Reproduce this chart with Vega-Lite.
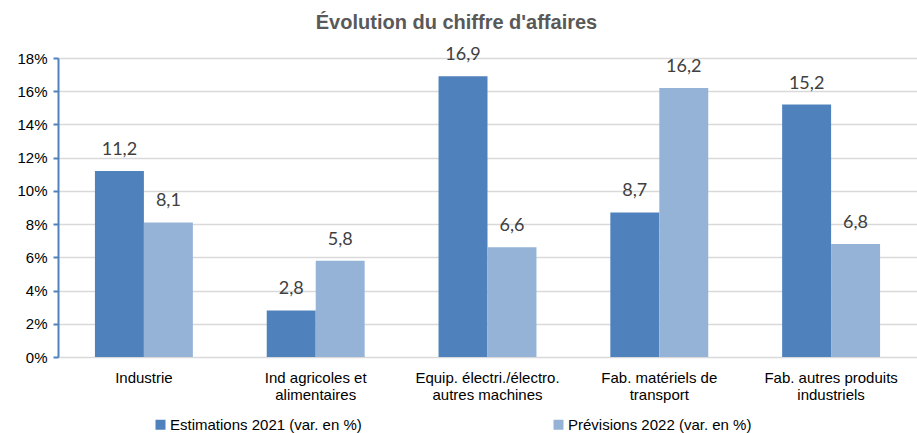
{
  "$schema": "https://vega.github.io/schema/vega-lite/v6.json",
  "width": 859,
  "height": 299,
  "autosize": {"type": "none"},
  "padding": {"left": 58, "top": 58, "right": 0, "bottom": 76},
  "background": "white",
  "config": {
    "view": {"stroke": null},
    "locale": {"number": {"decimal": ",", "thousands": " ", "grouping": [3], "currency": ["", " €"]}},
    "font": "Liberation Sans"
  },
  "title": {
    "text": "Évolution du chiffre d'affaires",
    "font": "Liberation Sans",
    "fontSize": 20,
    "fontWeight": "bold",
    "color": "#595959",
    "anchor": "middle",
    "dx": -31,
    "offset": 13
  },
  "data": {
    "values": [
      {"categorie": "Industrie", "serie": "Estimations 2021 (var. en %)", "valeur": 11.2},
      {"categorie": "Industrie", "serie": "Prévisions 2022 (var. en %)", "valeur": 8.1},
      {"categorie": "Ind agricoles et alimentaires", "serie": "Estimations 2021 (var. en %)", "valeur": 2.8},
      {"categorie": "Ind agricoles et alimentaires", "serie": "Prévisions 2022 (var. en %)", "valeur": 5.8},
      {"categorie": "Equip. électri./électro. autres machines", "serie": "Estimations 2021 (var. en %)", "valeur": 16.9},
      {"categorie": "Equip. électri./électro. autres machines", "serie": "Prévisions 2022 (var. en %)", "valeur": 6.6},
      {"categorie": "Fab. matériels de transport", "serie": "Estimations 2021 (var. en %)", "valeur": 8.7},
      {"categorie": "Fab. matériels de transport", "serie": "Prévisions 2022 (var. en %)", "valeur": 16.2},
      {"categorie": "Fab. autres produits industriels", "serie": "Estimations 2021 (var. en %)", "valeur": 15.2},
      {"categorie": "Fab. autres produits industriels", "serie": "Prévisions 2022 (var. en %)", "valeur": 6.8}
    ]
  },
  "encoding": {
    "x": {
      "field": "categorie",
      "type": "nominal",
      "sort": null,
      "scale": {"paddingInner": 0.43, "paddingOuter": 0.215},
      "axis": {
        "title": null,
        "labelAngle": 0,
        "labelFontSize": 15,
        "labelColor": "#000000",
        "labelPadding": 13,
        "labelLineHeight": 17,
        "ticks": false,
        "domainColor": "#d9d9d9",
        "labelExpr": "datum.label == 'Ind agricoles et alimentaires' ? ['Ind agricoles et', 'alimentaires'] : datum.label == 'Equip. électri./électro. autres machines' ? ['Equip. électri./électro.', 'autres machines'] : datum.label == 'Fab. matériels de transport' ? ['Fab. matériels de', 'transport'] : datum.label == 'Fab. autres produits industriels' ? ['Fab. autres produits', 'industriels'] : datum.label"
      }
    },
    "xOffset": {"field": "serie", "type": "nominal"},
    "y": {
      "field": "valeur",
      "type": "quantitative",
      "scale": {"domain": [0, 18], "nice": false},
      "axis": {
        "title": null,
        "values": [0, 2, 4, 6, 8, 10, 12, 14, 16, 18],
        "labelExpr": "datum.value + '%'",
        "labelFontSize": 15,
        "labelColor": "#000000",
        "labelPadding": 6,
        "domainColor": "#4f81bd",
        "domainWidth": 2,
        "tickColor": "#4f81bd",
        "tickSize": 5,
        "tickWidth": 2,
        "gridColor": "#d9d9d9",
        "gridWidth": 1.5
      }
    }
  },
  "layer": [
    {
      "mark": {"type": "bar"},
      "encoding": {
        "color": {
          "field": "serie",
          "type": "nominal",
          "scale": {"range": ["#4f81bd", "#95b3d7"]},
          "legend": {
            "title": null,
            "orient": "none",
            "legendX": 95,
            "legendY": 359,
            "direction": "horizontal",
            "symbolType": "square",
            "symbolSize": 100,
            "symbolStrokeWidth": 0,
            "labelFontSize": 15,
            "labelLimit": 400,
            "labelColor": "#000000",
            "labelOffset": 2,
            "columnPadding": 189
          }
        }
      }
    },
    {
      "mark": {"type": "text", "baseline": "bottom", "dy": -12, "fontSize": 18, "font": "Lato", "color": "#404040"},
      "encoding": {
        "text": {"field": "valeur", "type": "quantitative", "format": ".1f"}
      }
    }
  ]
}
